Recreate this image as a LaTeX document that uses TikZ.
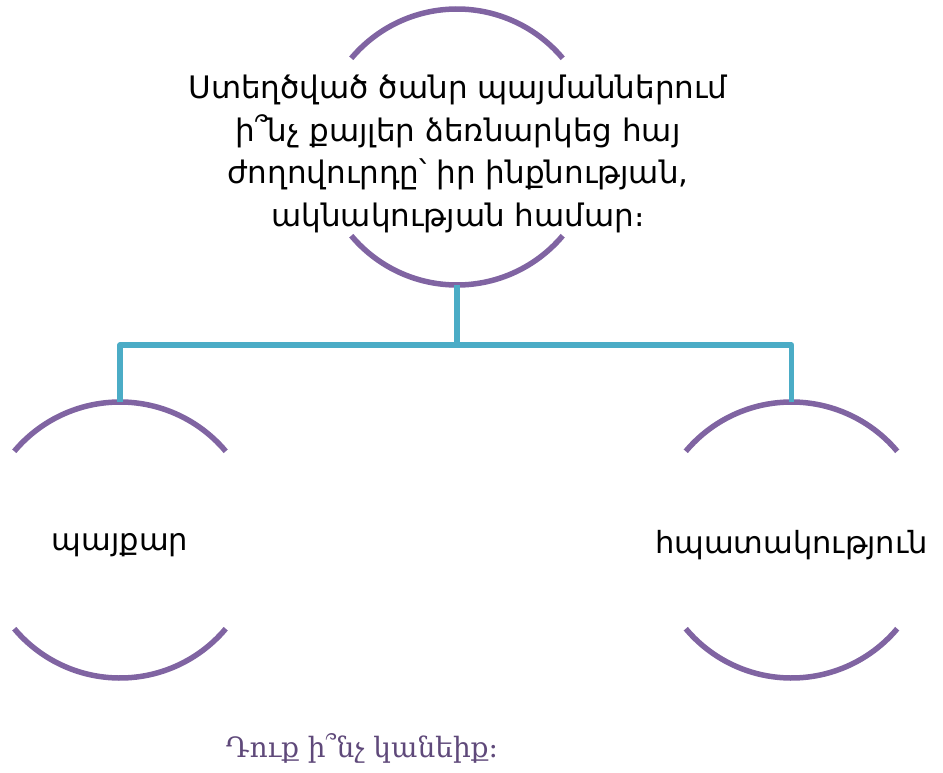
\documentclass[tikz,border=0pt]{standalone}
\usepackage{fontspec}
\setmainfont{DejaVu Sans}
\newfontfamily\armserif{DejaVu Serif}
\definecolor{ringpurple}{HTML}{8064A2}
\definecolor{linkteal}{HTML}{4BACC6}
\definecolor{asktext}{HTML}{5F497A}
\begin{document}
\begin{tikzpicture}[x=1pt,y=-1pt,
  ring/.style={draw=ringpurple,line width=5.5pt},
  link/.style={draw=linkteal,line width=5.5pt,line join=round},
  label/.style={align=center,font=\fontsize{30.5}{42}\selectfont,text=black},
  toplabel/.style={align=center,font=\fontsize{31}{42.5}\selectfont,text=black},
  ask/.style={font=\armserif\fontsize{28}{32}\selectfont,text=asktext}]
\useasboundingbox (0,0) rectangle (943,773);
% node centres
\coordinate (c0) at (457,147);
\coordinate (c1) at (120,540);
\coordinate (c2) at (791.5,540);
% rings (top and bottom arcs)
\foreach \c in {c0,c1,c2}{
  \draw[ring] (\c) ++(-40:138) arc[start angle=-40,end angle=-140,radius=138];
  \draw[ring] (\c) ++(40:138) arc[start angle=40,end angle=140,radius=138];
}
\node[toplabel] (top) at (458,154) {Ստեղծված ծանր պայմաններում\\ի՞նչ քայլեր ձեռնարկեց հայ\\ժողովուրդը՝ իր ինքնության,\\ակնակության համար։};
\node[label] (left) at (120,545) {պայքար};
\node[label] (right) at (791.5,545) {հպատակություն};
\coordinate (t0) at (457,285);
\coordinate (t1) at (120,402);
\coordinate (t2) at (791.5,402);
\coordinate (bus) at (457,345);
\draw[link] (t0) -- (bus);
\draw[link] (t1) |- (bus) -| (t2);
\node[ask] (q) at (362,748) {Դուք ի՞նչ կանեիք։};
\end{tikzpicture}
\end{document}
